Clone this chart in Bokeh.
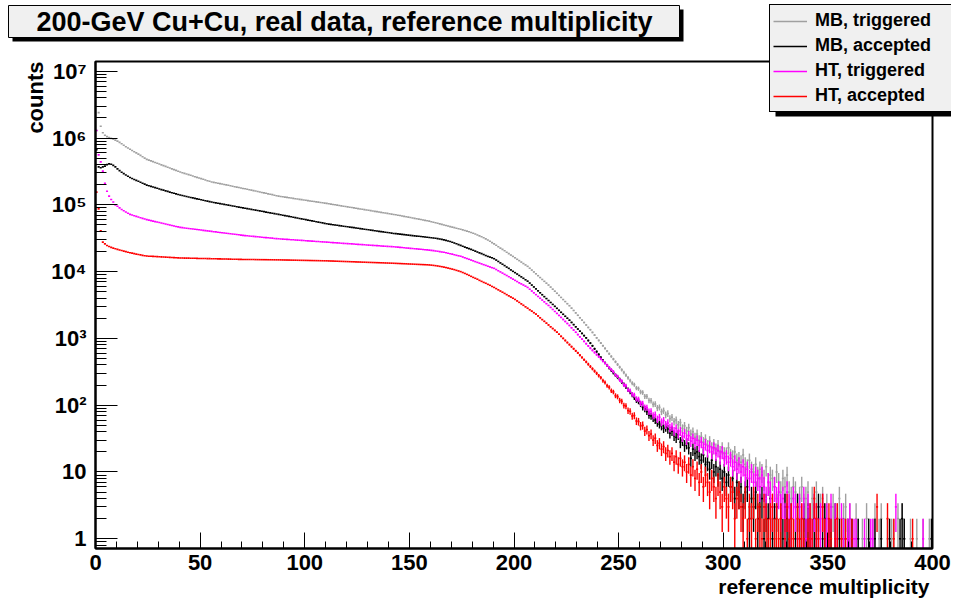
import numpy as np
from bokeh.plotting import figure
from bokeh.models import (FixedTicker, Range1d, Label, BoxAnnotation, Legend,
                          LegendItem, ColumnDataSource)
from bokeh.embed import file_html
from bokeh.resources import INLINE

# ---------------- data (counts per reference-multiplicity bin, bins 0..399) ----------------
x_ticks = [0, 50, 100, 150, 200, 250, 300, 350, 400]
x_minor = list(range(0, 401, 10))
y_ticks = [1, 10, 100, 1000, 10000, 100000, 1000000, 10000000]
y_labels = ["1", "10", "10²", "10³", "10⁴", "10⁵", "10⁶", "10⁷"]
y_minor = [0.8, 0.9] + [m * 10 ** k for k in range(0, 7) for m in range(2, 10)]

series_names = ["MB, triggered", "MB, accepted", "HT, triggered", "HT, accepted"]
series_colors = ["#a0a0a0", "#000000", "#ff00ff", "#ff0000"]

mb_triggered = [
    1300000, 2400000, 1500000, 1200000, 1100000, 1050000, 1020000, 990000, 960000, 930000,
    900000, 860000, 820000, 780000, 740000, 710000, 680000, 650000, 625000, 600000,
    575000, 550000, 525000, 500000, 480000, 467000, 455000, 443000, 431000, 419000,
    408000, 397000, 386000, 376000, 366000, 356000, 346000, 337000, 328000, 319000,
    310000, 303000, 296000, 290000, 283000, 277000, 270000, 264000, 258000, 252000,
    247000, 241000, 236000, 230000, 225000, 220000, 217000, 214000, 211000, 208000,
    205000, 202000, 199000, 196000, 193000, 190000, 187000, 184000, 182000, 179000,
    176000, 174000, 171000, 168000, 166000, 163000, 161000, 158000, 156000, 153000,
    151000, 149000, 146000, 144000, 142000, 139000, 137000, 135000, 133500, 132000,
    130600, 129200, 127800, 126400, 125000, 123600, 122200, 120900, 119600, 118300,
    117000, 115700, 114400, 113200, 112000, 110800, 109600, 108400, 107200, 106100,
    105000, 103800, 102500, 101300, 100100, 98900, 97700, 96600, 95400, 94300,
    93200, 92100, 91000, 89900, 88900, 87800, 86800, 85800, 84800, 83800,
    82800, 81800, 80800, 79900, 79000, 78000, 77100, 76200, 75300, 74400,
    73500, 72700, 71800, 71000, 70000, 69100, 68100, 67200, 66300, 65400,
    64500, 63600, 62700, 61900, 61000, 60200, 59400, 58600, 57800, 57000,
    55900, 54900, 53900, 52900, 51900, 50900, 50000, 49000, 48100, 47200,
    46300, 45500, 44600, 43800, 43000, 42200, 41300, 40400, 39500, 38500,
    37500, 36500, 35400, 34300, 33200, 32100, 30900, 29700, 28500, 27200,
    26000, 24800, 23600, 22500, 21500, 20500, 19500, 18600, 17700, 16900,
    16100, 15300, 14600, 13900, 13200, 12600, 12000, 11250, 10550, 9890,
    9270, 8690, 8150, 7640, 7160, 6720, 6300, 5870, 5460, 5090,
    4740, 4410, 4110, 3820, 3560, 3310, 3090, 2840, 2620, 2410,
    2220, 2040, 1880, 1730, 1590, 1460, 1350, 1230, 1120, 1020,
    933, 851, 776, 708, 646, 589, 537, 490, 447, 407,
    371, 339, 309, 282, 257, 234, 214, 203, 181, 177,
    158, 155, 136, 135, 118, 117, 103, 104, 91, 93,
    80, 83, 72, 75, 63, 66, 57, 60, 51, 55,
    45, 49, 41, 46, 37, 40, 33, 37, 30, 34,
    28, 31, 25, 29, 23, 26, 22, 25, 20, 23,
    19, 19, 23, 18, 17, 20, 15, 16, 14, 18,
    13, 12, 15, 11, 10, 13, 9, 11, 10, 8,
    12, 7, 9, 8, 6, 10, 7, 5, 8, 6,
    9, 5, 4, 6, 5, 3, 4, 6, 3, 4,
    5, 2, 4, 3, 5, 2, 3, 4, 2, 3,
    1, 2, 3, 1, 2, 4, 1, 2, 3, 1,
    2, 1, 0, 2, 1, 0, 1, 0, 2, 1,
    0, 1, 2, 0, 1, 2, 0, 0, 1, 0,
    1, 1, 0, 2, 0, 2, 1, 0, 0, 1,
    0, 0, 1, 0, 0, 1, 0, 0, 1, 0,
]

mb_accepted = [
    670000, 370000, 360000, 370000, 380000, 400000, 410000, 405000, 390000, 370000,
    345000, 325000, 308000, 293000, 280000, 268000, 257000, 248000, 240000, 232000,
    225000, 218000, 211000, 204000, 197000, 193000, 189000, 185000, 181000, 177000,
    173000, 169000, 166000, 162000, 159000, 155000, 152000, 149000, 146000, 143000,
    140000, 137800, 135500, 133300, 131200, 129100, 127000, 125000, 123000, 121000,
    119000, 117100, 115300, 113500, 111700, 110000, 108600, 107100, 105700, 104300,
    102900, 101600, 100200, 98900, 97600, 96300, 95000, 93800, 92500, 91300,
    90100, 89000, 87800, 86700, 85500, 84400, 83300, 82200, 81100, 80000,
    79000, 77900, 76900, 75900, 74900, 73900, 72900, 72000, 71000, 70000,
    69000, 68100, 67100, 66200, 65200, 64300, 63400, 62500, 61700, 60800,
    60000, 59100, 58300, 57500, 56700, 55900, 55100, 54300, 53600, 52800,
    52000, 51500, 50900, 50400, 49900, 49400, 48900, 48400, 47900, 47400,
    46900, 46400, 45900, 45500, 45000, 44500, 44100, 43600, 43200, 42700,
    42300, 41800, 41400, 41000, 40500, 40100, 39700, 39300, 38900, 38500,
    38100, 37700, 37300, 37000, 36700, 36400, 36100, 35800, 35500, 35200,
    34900, 34600, 34300, 34000, 33800, 33500, 33200, 33000, 32700, 32500,
    32200, 31900, 31600, 31200, 30800, 30400, 29900, 29400, 28800, 28200,
    27500, 26800, 26100, 25400, 24700, 24000, 23300, 22700, 22100, 21500,
    20900, 20300, 19700, 19100, 18600, 18000, 17400, 16900, 16500, 16100,
    15600, 14900, 14200, 13500, 12900, 12300, 11700, 11200, 10600, 10100,
    9650, 9200, 8750, 8350, 7950, 7550, 7200, 6735, 6300, 5893,
    5512, 5156, 4823, 4512, 4220, 3948, 3693, 3454, 3231, 3018,
    2819, 2633, 2459, 2297, 2145, 2004, 1872, 1735, 1609, 1491,
    1382, 1281, 1188, 1101, 1020, 930, 850, 775, 700, 635,
    575, 520, 470, 430, 395, 362, 333, 306, 282, 262,
    243, 222, 205, 188, 171, 158, 144, 131, 119, 114,
    104, 93, 88, 80, 71, 69, 64, 60, 55, 52,
    49, 45, 47, 44, 38, 41, 35, 33, 36, 28,
    30, 25, 27, 23, 16, 22, 19, 20, 17, 15,
    18, 13, 14, 11, 15, 10, 12, 9, 11, 8,
    10, 7, 9, 6, 8, 4, 7, 5, 6, 3,
    5, 6, 2, 4, 3, 5, 2, 3, 4, 1,
    3, 2, 4, 1, 2, 3, 0, 2, 1, 3,
    2, 1, 2, 0, 1, 3, 1, 0, 2, 1,
    2, 1, 0, 2, 1, 3, 0, 1, 2, 0,
    1, 1, 0, 2, 0, 1, 0, 1, 0, 1,
    0, 1, 0, 0, 1, 0, 0, 0, 0, 1,
    0, 0, 1, 0, 0, 1, 0, 0, 0, 1,
    0, 0, 0, 0, 1, 2, 1, 0, 0, 0,
    0, 0, 0, 0, 0, 0, 0, 0, 0, 1,
]

ht_triggered = [
    1300000, 560000, 440000, 320000, 210000, 160000, 135000, 120000, 110000, 100000,
    95000, 90000, 85000, 81500, 78000, 75000, 72000, 70400, 68800, 67200,
    65700, 64200, 62800, 61400, 60000, 59000, 58000, 57100, 56100, 55200,
    54300, 53400, 52500, 51600, 50800, 49900, 49100, 48300, 47500, 46700,
    46000, 45600, 45100, 44700, 44300, 43900, 43500, 43100, 42700, 42300,
    41900, 41500, 41100, 40700, 40400, 40000, 39600, 39300, 38900, 38600,
    38200, 37900, 37500, 37200, 36900, 36500, 36200, 35900, 35600, 35200,
    34900, 34600, 34400, 34100, 33900, 33700, 33400, 33200, 33000, 32700,
    32500, 32300, 32100, 31900, 31700, 31400, 31200, 31000, 30850, 30700,
    30540, 30390, 30240, 30080, 29930, 29780, 29630, 29480, 29340, 29190,
    29040, 28900, 28750, 28610, 28460, 28320, 28180, 28040, 27900, 27760,
    27600, 27460, 27320, 27190, 27050, 26920, 26780, 26650, 26520, 26380,
    26250, 26120, 25990, 25860, 25730, 25600, 25480, 25350, 25220, 25100,
    24970, 24850, 24720, 24600, 24480, 24360, 24240, 24120, 24000, 23880,
    23760, 23640, 23520, 23400, 23240, 23090, 22930, 22780, 22620, 22470,
    22320, 22170, 22020, 21870, 21730, 21580, 21440, 21290, 21150, 21000,
    20800, 20600, 20400, 20200, 19950, 19700, 19450, 19150, 18850, 18550,
    18250, 17900, 17550, 17250, 17000, 16550, 16100, 15700, 15300, 14900,
    14500, 14100, 13750, 13400, 13050, 12700, 12400, 12050, 11750, 11450,
    11200, 10750, 10300, 9900, 9500, 9100, 8750, 8400, 8050, 7700,
    7400, 7100, 6800, 6550, 6300, 6050, 5800, 5450, 5122, 4813,
    4523, 4250, 3994, 3753, 3527, 3314, 3116, 2908, 2714, 2533,
    2364, 2206, 2059, 1922, 1794, 1674, 1562, 1444, 1336, 1235,
    1142, 1056, 977, 903, 835, 772, 714, 663, 616, 572,
    532, 494, 459, 426, 396, 368, 341, 318, 284, 270,
    240, 229, 202, 196, 170, 165, 146, 142, 125, 123,
    107, 106, 93, 92, 80, 81, 70, 72, 62, 66,
    56, 59, 51, 54, 46, 48, 41, 45, 38, 41,
    34, 38, 31, 35, 29, 32, 27, 30, 25, 28,
    23, 26, 21, 24, 20, 23, 19, 21, 17, 20,
    16, 17, 14, 16, 12, 14, 11, 13, 10, 12,
    9, 11, 8, 10, 7, 9, 8, 6, 9, 6,
    4, 7, 5, 3, 6, 4, 5, 3, 4, 2,
    5, 3, 2, 4, 3, 1, 3, 2, 4, 1,
    3, 2, 1, 3, 2, 1, 2, 3, 1, 2,
    1, 3, 0, 2, 1, 0, 2, 1, 0, 1,
    2, 0, 1, 1, 0, 0, 0, 1, 0, 0,
    1, 1, 0, 0, 0, 0, 0, 0, 0, 0,
    0, 0, 3, 0, 0, 0, 0, 0, 0, 0,
    0, 0, 0, 0, 0, 1, 0, 0, 0, 0,
]

ht_accepted = [
    155000, 87000, 41000, 27600, 26000, 24600, 23800, 23100, 22500, 22000,
    21500, 21100, 20700, 20300, 19900, 19500, 19200, 18900, 18600, 18300,
    18000, 17800, 17500, 17300, 17100, 17030, 16960, 16890, 16820, 16750,
    16680, 16610, 16540, 16470, 16400, 16330, 16260, 16200, 16130, 16060,
    16000, 15970, 15950, 15920, 15900, 15870, 15840, 15820, 15790, 15760,
    15740, 15710, 15680, 15660, 15630, 15600, 15570, 15550, 15520, 15500,
    15470, 15450, 15420, 15400, 15370, 15350, 15320, 15300, 15270, 15250,
    15220, 15200, 15190, 15180, 15160, 15150, 15140, 15120, 15110, 15100,
    15090, 15080, 15060, 15050, 15040, 15020, 15010, 15000, 14980, 14960,
    14930, 14910, 14890, 14870, 14850, 14830, 14800, 14780, 14760, 14740,
    14720, 14700, 14670, 14650, 14630, 14610, 14590, 14560, 14540, 14520,
    14500, 14460, 14420, 14390, 14350, 14310, 14270, 14240, 14200, 14160,
    14130, 14090, 14050, 14020, 13980, 13940, 13910, 13870, 13840, 13800,
    13760, 13730, 13690, 13660, 13620, 13590, 13550, 13520, 13480, 13450,
    13410, 13380, 13340, 13300, 13250, 13210, 13160, 13120, 13080, 13030,
    12990, 12950, 12900, 12860, 12820, 12770, 12730, 12690, 12650, 12600,
    12500, 12400, 12280, 12150, 12000, 11850, 11680, 11500, 11300, 11100,
    10900, 10700, 10450, 10230, 10000, 9700, 9400, 9100, 8800, 8500,
    8200, 7950, 7700, 7400, 7150, 6900, 6700, 6450, 6250, 6000,
    5800, 5565, 5339, 5122, 4914, 4715, 4523, 4340, 4164, 3995,
    3833, 3644, 3464, 3293, 3130, 2975, 2828, 2688, 2556, 2429,
    2309, 2170, 2039, 1916, 1800, 1692, 1590, 1494, 1404, 1319,
    1240, 1155, 1075, 1001, 932, 868, 808, 752, 700, 652,
    607, 561, 519, 480, 444, 410, 379, 351, 324, 300,
    277, 258, 233, 219, 196, 186, 165, 158, 139, 134,
    118, 114, 99, 97, 83, 81, 69, 70, 58, 57,
    49, 50, 41, 43, 35, 37, 30, 32, 25, 27,
    22, 24, 19, 21, 17, 19, 14, 17, 13, 16,
    12, 14, 10, 13, 9, 12, 8, 11, 7, 10,
    6, 9, 7, 5, 8, 6, 4, 7, 5, 3,
    6, 4, 3, 6, 5, 2, 4, 5, 3, 2,
    4, 1, 3, 2, 4, 1, 3, 2, 1, 3,
    2, 1, 2, 3, 1, 2, 1, 2, 0, 1,
    3, 1, 2, 1, 0, 2, 1, 2, 1, 0,
    1, 2, 1, 4, 2, 1, 0, 3, 1, 0,
    2, 1, 0, 1, 2, 0, 1, 0, 1, 0,
    0, 1, 0, 0, 0, 0, 0, 0, 0, 0,
    0, 0, 0, 3, 0, 0, 0, 0, 2, 0,
    0, 1, 0, 0, 0, 0, 0, 0, 0, 0,
    1, 0, 0, 0, 0, 0, 0, 0, 0, 0,
]

all_series = [mb_triggered, mb_accepted, ht_triggered, ht_accepted]

# ---------------- layout (figure pixels, origin top-left) ----------------
W, H = 951, 599
PL, PR, PT, PB = 95, 932, 61, 548          # plot box
XMIN, XMAX = 0.0, 400.0
YMIN, YMAX = 0.715, 1.4e7

# the frame covers the whole canvas; the axes are pinned to the plot box
xpp = (XMAX - XMIN) / (PR - PL)
x_lo = XMIN - PL * xpp
x_hi = XMAX + (W - PR) * xpp
dpp = (np.log10(YMAX) - np.log10(YMIN)) / (PB - PT)
y_lo = 10 ** (np.log10(YMIN) - (H - PB) * dpp)
y_hi = 10 ** (np.log10(YMAX) + PT * dpp)

p = figure(width=W, height=H, y_axis_type="log",
           x_range=Range1d(x_lo, x_hi), y_range=Range1d(y_lo, y_hi),
           output_backend="svg", toolbar_location=None,
           min_border=0, min_border_left=0, min_border_right=0,
           min_border_top=0, min_border_bottom=0)
p.title.visible = False
p.xgrid.visible = False
p.ygrid.visible = False
p.background_fill_color = "white"
p.border_fill_color = "white"
p.outline_line_color = None

FONT = "Liberation Sans"

p.xaxis.fixed_location = YMIN
p.xaxis.bounds = (XMIN, XMAX)
p.xaxis.ticker = FixedTicker(ticks=x_ticks, minor_ticks=x_minor)
p.xaxis.major_tick_in = 16
p.xaxis.major_tick_out = 0
p.xaxis.minor_tick_in = 7
p.xaxis.minor_tick_out = 0
p.xaxis.major_label_standoff = 6

p.yaxis.fixed_location = XMIN
p.yaxis.bounds = (YMIN, YMAX)
p.yaxis.ticker = FixedTicker(ticks=y_ticks, minor_ticks=y_minor)
p.yaxis.major_label_overrides = {t: l for t, l in zip(y_ticks, y_labels)}
p.yaxis.major_tick_in = 22
p.yaxis.major_tick_out = 0
p.yaxis.minor_tick_in = 11
p.yaxis.minor_tick_out = 0
p.yaxis.major_label_standoff = 9

for ax in (p.xaxis, p.yaxis):
    ax.axis_line_width = 2
    ax.axis_line_color = "black"
    ax.major_tick_line_color = "black"
    ax.minor_tick_line_color = "black"
    ax.major_tick_line_width = 1
    ax.minor_tick_line_width = 1
    ax.major_label_text_font = FONT
    ax.major_label_text_font_style = "bold"
    ax.major_label_text_font_size = "22px"
    ax.major_label_text_color = "black"

# ---------------- histograms with error bars ----------------
bins = np.arange(400)
legend_items = []
for name, color, vals in zip(series_names, series_colors, all_series):
    v = np.array(vals, dtype=float)
    m = v > 0
    xs = bins[m].astype(float)
    ys = v[m]
    err = np.sqrt(ys)
    hsrc = ColumnDataSource(dict(x0=xs, x1=xs + 1.0, y=ys))
    vsrc = ColumnDataSource(dict(xc=xs + 0.5, lo=np.maximum(ys - err, YMIN),
                                 hi=np.minimum(ys + err, YMAX)))
    p.segment(x0="xc", y0="lo", x1="xc", y1="hi", source=vsrc,
              line_color=color, line_width=1.4)
    rh = p.segment(x0="x0", y0="y", x1="x1", y1="y", source=hsrc,
                   line_color=color, line_width=1.6)
    legend_items.append(LegendItem(label=name, renderers=[rh]))

# plot box (top and right sides of the ROOT frame)
p.add_layout(BoxAnnotation(left=XMIN, right=XMAX, bottom=YMIN, top=YMAX,
                           fill_color=None, line_color="black", line_alpha=1,
                           line_width=2))


def scr(fy):
    return H - fy


def box(l, r, t, b, **kw):
    return BoxAnnotation(left=l, right=r, top=scr(t), bottom=scr(b),
                         left_units="screen", right_units="screen",
                         top_units="screen", bottom_units="screen", **kw)


# ---------------- title pave with shadow ----------------
p.add_layout(box(12, 683, 9, 41, fill_color="black", fill_alpha=1, line_color=None))
p.add_layout(box(8, 679, 5, 37, fill_color="#f0f0f0", fill_alpha=1,
                 line_color="black", line_alpha=1, line_width=1))
p.add_layout(Label(x=344, y=scr(21), x_units="screen", y_units="screen",
                   text="200-GeV Cu+Cu, real data, reference multiplicity",
                   text_font=FONT, text_font_style="bold", text_font_size="27px",
                   text_align="center", text_baseline="middle", text_color="black"))

# ---------------- axis titles ----------------
p.add_layout(Label(x=35, y=scr(61), x_units="screen", y_units="screen",
                   text="counts", angle=np.pi / 2,
                   text_font=FONT, text_font_style="bold", text_font_size="22px",
                   text_align="right", text_baseline="middle", text_color="black"))
p.add_layout(Label(x=929, y=scr(597), x_units="screen", y_units="screen",
                   text="reference multiplicity",
                   text_font=FONT, text_font_style="bold", text_font_size="21px",
                   text_align="right", text_baseline="bottom", text_color="black"))

# ---------------- legend with shadow ----------------
p.add_layout(box(775, 965, 20, 116, fill_color="black", fill_alpha=1, line_color=None))
legend = Legend(items=legend_items, location=(769, scr(112)),
                background_fill_color="#f0f0f0", background_fill_alpha=1,
                border_line_color="black", border_line_alpha=1, border_line_width=1,
                label_text_font=FONT, label_text_font_style="bold",
                label_text_font_size="18px", label_text_color="black",
                label_height=25, glyph_height=20, glyph_width=34,
                label_standoff=8, padding=3, spacing=0, margin=0,
                label_width=160)
p.add_layout(legend)

open("out.html", "w").write(file_html(p, INLINE))
